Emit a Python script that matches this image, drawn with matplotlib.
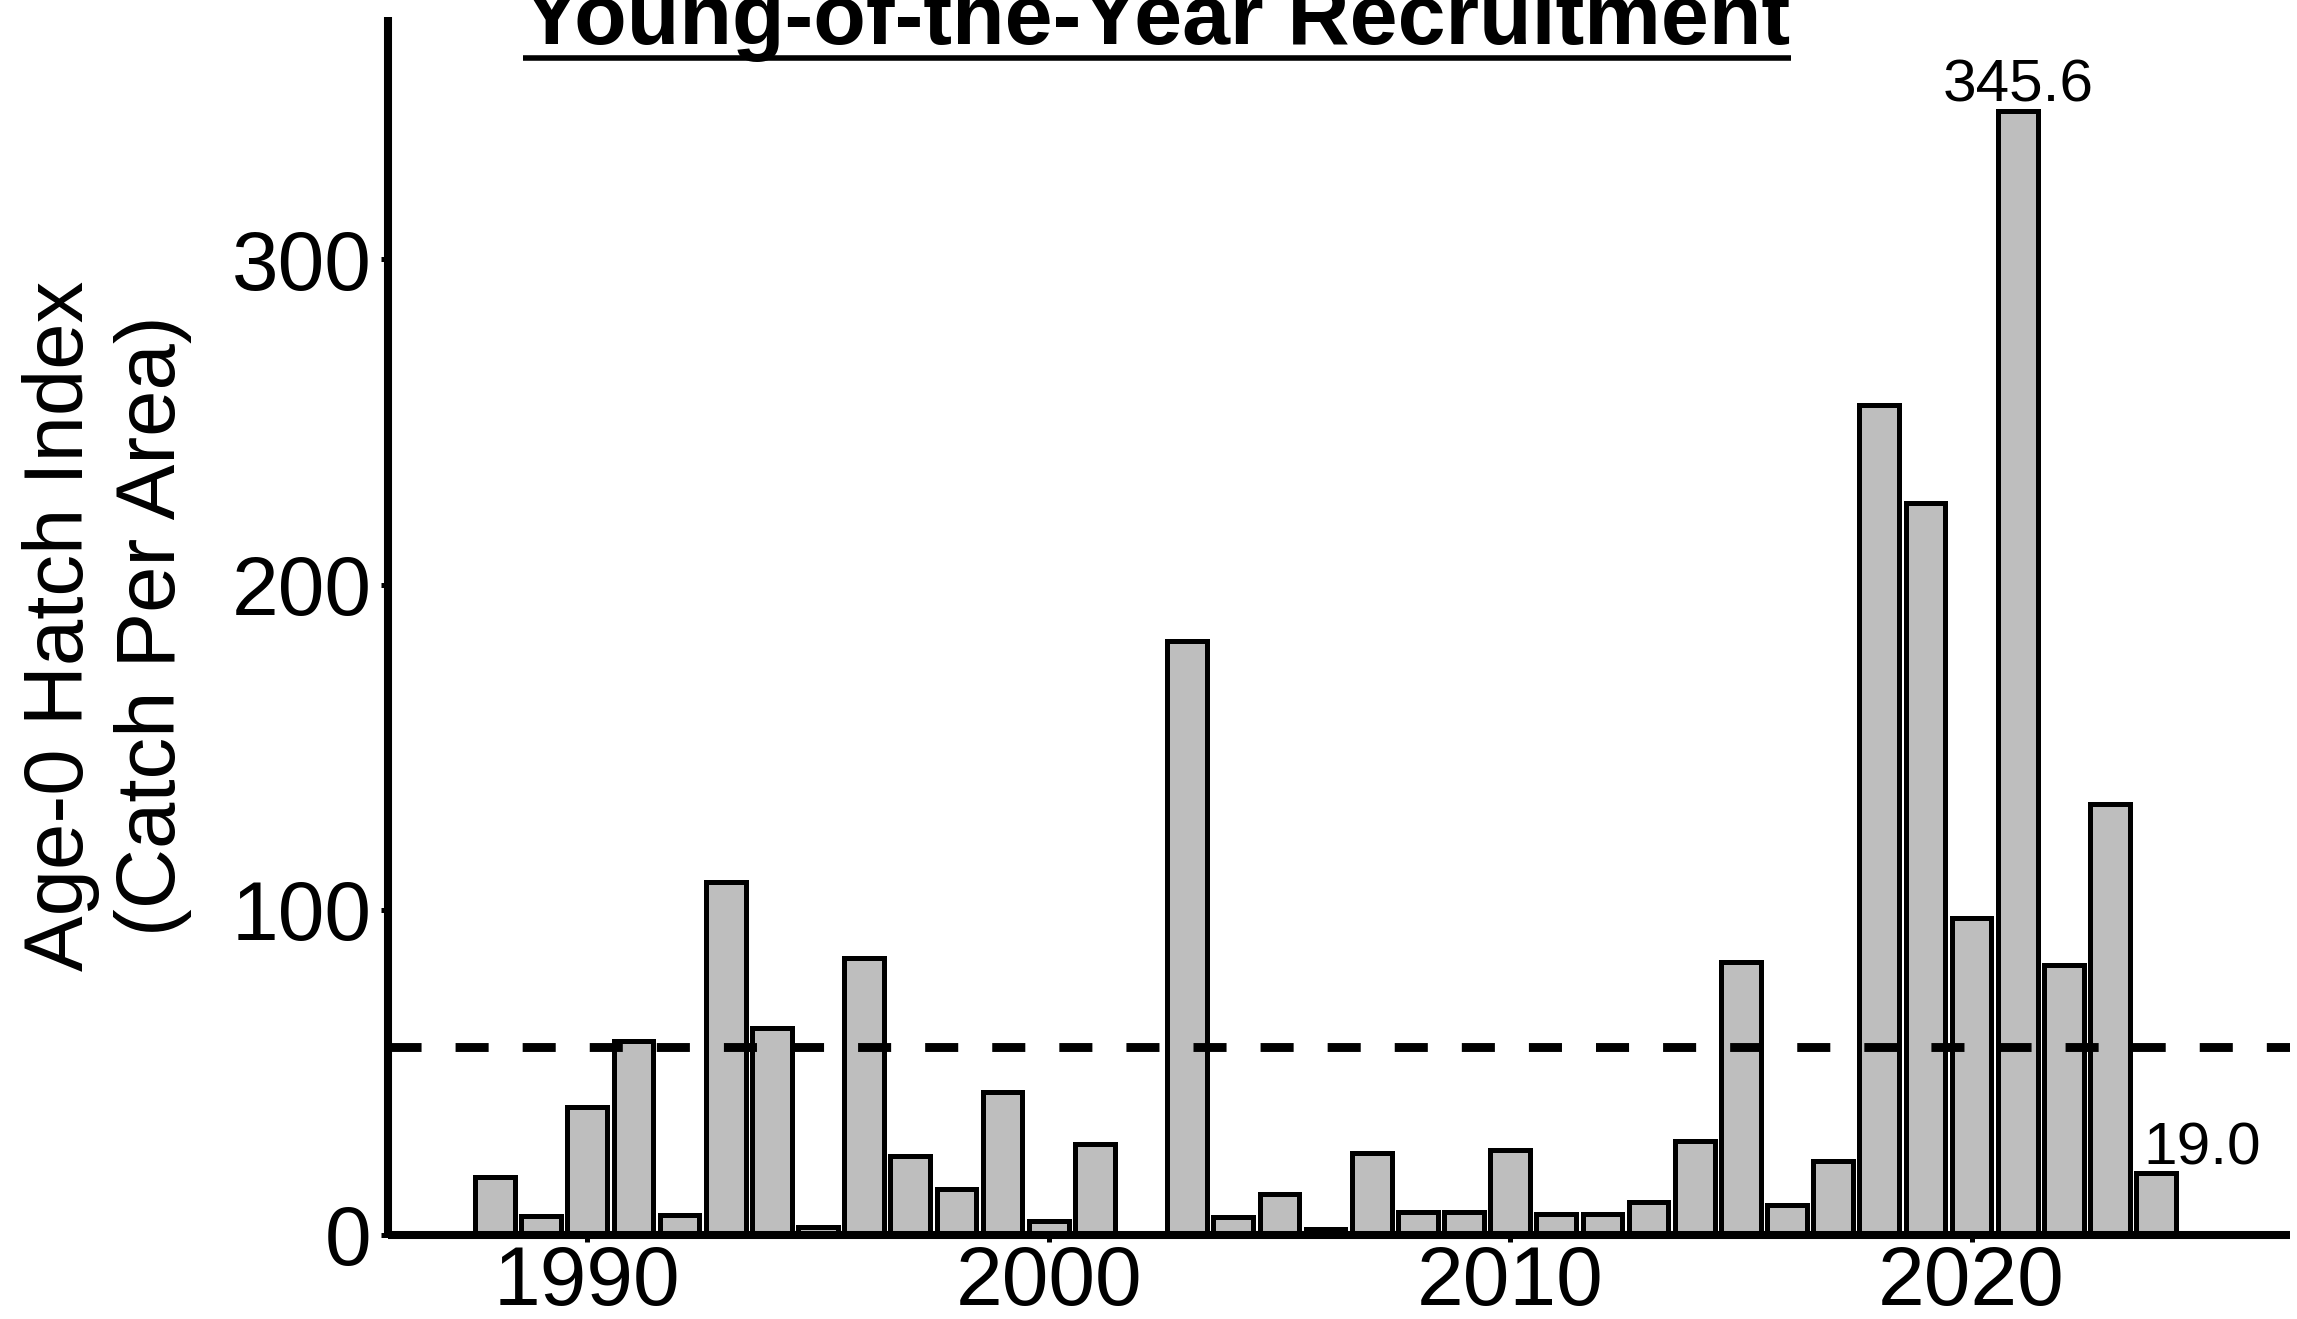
import matplotlib
matplotlib.use("Agg")
import matplotlib.pyplot as plt
from matplotlib.lines import Line2D

plt.rcParams['font.family'] = ['Liberation Sans', 'DejaVu Sans']
plt.rcParams['lines.scale_dashes'] = False

# ---- data ----
years = [1988, 1989, 1990, 1991, 1992, 1993, 1994, 1995, 1996, 1997, 1998, 1999,
         2000, 2001, 2003, 2004, 2005, 2006, 2007, 2008, 2009, 2010, 2011, 2012,
         2013, 2014, 2015, 2016, 2017, 2018, 2019, 2020, 2021, 2022, 2023, 2024]
hatch_index = [17.8, 5.9, 39.3, 59.7, 6.3, 108.6, 63.6, 2.6, 85.1, 24.3, 14.2, 44.0,
               4.4, 28.1, 182.7, 5.4, 12.6, 1.8, 25.3, 7.2, 7.2, 26.1, 6.5, 6.5,
               10.2, 28.8, 84.0, 9.1, 22.7, 255.1, 225.0, 97.4, 345.6, 83.1, 132.4, 19.0]
reference_mean = 57.8
labeled_years = [2021, 2025]
labeled_values = [345.6, 19.0]
xticks = [1990, 2000, 2010, 2020]
yticks = [0, 100, 200, 300]
title = "Young-of-the-Year Recruitment"
ylabel = "Age-0 Hatch Index\n(Catch Per Area)"

W, H = 2297, 1319
fig = plt.figure(figsize=(W / 100, H / 100), dpi=100)
ax = fig.add_axes([388 / W, 1 - 1235 / H, (2290 - 388) / W, (1235 - 17) / H])

ax.bar(years, hatch_index, width=0.86, color='#BEBEBE', edgecolor='black',
       linewidth=3.6, zorder=2)
ax.axhline(reference_mean, color='black', linewidth=6.4, dashes=(23.8, 24.5),
           zorder=3)

for x, v in zip(labeled_years, labeled_values):
    ax.text(x, v + 2.8, f"{v:.1f}", ha='center', va='baseline', fontsize=43.5,
            zorder=4)

ax.set_xlim(1985.68, 2026.9)
ax.set_ylim(0, 374.5)
ax.set_xticks(xticks)
ax.set_yticks(yticks)
ax.tick_params(axis='both', labelsize=60.5, length=5, width=3.6,
               color='black', labelcolor='black')
ax.tick_params(axis='x', pad=1.5)
ax.tick_params(axis='y', pad=7)
for s in ['top', 'right']:
    ax.spines[s].set_visible(False)
for s in ['left', 'bottom']:
    ax.spines[s].set_linewidth(5.8)
    ax.spines[s].set_capstyle('butt')

fig.text(107 / W, 1 - 626 / H, ylabel, rotation=90, ha='center', va='center',
         fontsize=60, multialignment='center', linespacing=1.22)

t = fig.text(1157 / W, 1 - 44 / H, title, ha='center', va='baseline',
             fontsize=62, fontweight='bold')
fig.canvas.draw()
bb = t.get_window_extent(renderer=fig.canvas.get_renderer())
uy = 1 - 58 / H
fig.add_artist(Line2D([bb.x0 / W, bb.x1 / W], [uy, uy], transform=fig.transFigure,
                      color='black', linewidth=4, solid_capstyle='butt'))

fig.savefig("out.png", dpi=100, facecolor='white')
